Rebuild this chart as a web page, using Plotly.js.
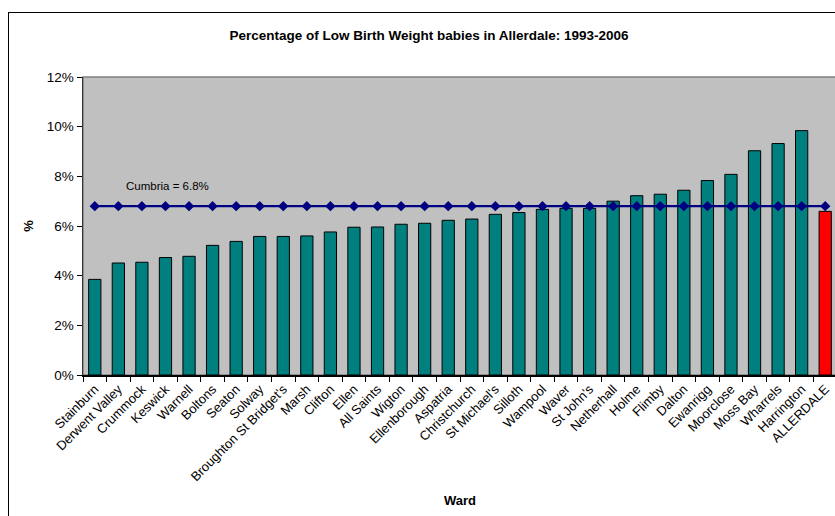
<!DOCTYPE html>
<html>
<head>
<meta charset="utf-8">
<script src="https://cdn.plot.ly/plotly-3.0.1.min.js"></script>
<style>
  html, body { margin: 0; padding: 0; background: #fff; overflow: hidden; }
  #wrap { position: relative; width: 835px; height: 516px; overflow: hidden; }
  #chart { position: absolute; left: 0; top: 0; width: 837px; height: 516px; }
  #frame { position: absolute; left: 8px; top: 12px; width: 900px; height: 600px;
           border: 1px solid #000; pointer-events: none; }
</style>
</head>
<body>
<div id="wrap">
  <div id="chart"></div>
  <div id="frame"></div>
</div>
<script>
// Low birth weight rate (%) by ward, Allerdale 1993-2006
const wards = ["Stainburn", "Derwent Valley", "Crummock", "Keswick", "Warnell", "Boltons",
  "Seaton", "Solway", "Broughton St Bridget's", "Marsh", "Clifton", "Ellen", "All Saints",
  "Wigton", "Ellenborough", "Aspatria", "Christchurch", "St Michael's", "Silloth", "Wampool",
  "Waver", "St John's", "Netherhall", "Holme", "Flimby", "Dalton", "Ewanrigg", "Moorclose",
  "Moss Bay", "Wharrels", "Harrington", "ALLERDALE"];

const lbwRate = [3.85, 4.51, 4.54, 4.73, 4.78, 5.22, 5.38, 5.58, 5.58, 5.60, 5.76, 5.95, 5.96,
  6.07, 6.11, 6.23, 6.28, 6.47, 6.54, 6.67, 6.71, 6.71, 7.00, 7.22, 7.28, 7.44, 7.83, 8.08,
  9.03, 9.32, 9.84, 6.59];

// County-wide comparison rate
const cumbriaRate = 6.8;
const cumbriaLabel = "Cumbria = 6.8%";

const yTicks = [0, 2, 4, 6, 8, 10, 12];

const FONT = "Liberation Sans, Arial, sans-serif";

const barColors = wards.map(w => w === "ALLERDALE" ? "#ff0000" : "#007f7f");

const bars = {
  type: "bar",
  x: wards,
  y: lbwRate,
  marker: { color: barColors, line: { color: "#000", width: 1 } },
  hoverinfo: "x+y",
  showlegend: false
};

const cumbria = {
  type: "scatter",
  mode: "lines+markers",
  x: wards,
  y: wards.map(() => cumbriaRate),
  line: { color: "#000080", width: 2.4 },
  marker: { symbol: "diamond", size: 8, color: "#000080" },
  showlegend: false
};

const layout = {
  width: 837,
  height: 516,
  margin: { l: 83, r: 0, t: 77, b: 141 },
  paper_bgcolor: "#ffffff",
  plot_bgcolor: "#c0c0c0",
  bargap: 0.48,
  font: { family: FONT, color: "#000", size: 12 },
  title: {
    text: "<b>Percentage of Low Birth Weight babies in Allerdale: 1993-2006</b>",
    font: { family: FONT, size: 13.5, color: "#000" },
    x: 429 / 837, xref: "container", xanchor: "center",
    y: 1 - 35 / 516, yref: "container", yanchor: "middle"
  },
  xaxis: {
    type: "category",
    range: [-0.5, wards.length - 0.5],
    autorange: false,
    tickson: "boundaries",
    ticks: "outside",
    ticklen: 5,
    tickcolor: "#000",
    tickwidth: 1,
    tickangle: -45,
    tickfont: { family: FONT, size: 13, color: "#000" },
    showline: true,
    linecolor: "#000",
    linewidth: 1.5,
    showgrid: false,
    automargin: false,
    title: { text: "<b>Ward</b>", font: { family: FONT, size: 13, color: "#000" }, standoff: 13 }
  },
  yaxis: {
    range: [0, 12],
    autorange: false,
    tickvals: yTicks,
    ticktext: yTicks.map(v => v + "%"),
    ticks: "outside",
    ticklen: 5,
    tickcolor: "#000",
    tickfont: { family: FONT, size: 13.5, color: "#000" },
    showline: true,
    linecolor: "#333",
    linewidth: 1.5,
    showgrid: false,
    zeroline: false,
    automargin: false,
    title: { text: "<b>%</b>", font: { family: FONT, size: 13, color: "#000" }, standoff: 10 }
  },
  shapes: [{
    type: "rect", xref: "paper", yref: "paper", x0: 0, x1: 1, y0: 0, y1: 1,
    line: { color: "#808080", width: 1.5 }, layer: "below"
  }],
  annotations: [{
    text: cumbriaLabel,
    xref: "paper", yref: "y",
    x: (124 - 83) / 754, y: 7.6,
    xanchor: "left", yanchor: "middle",
    showarrow: false,
    font: { family: FONT, size: 11.5, color: "#000" }
  }]
};

Plotly.newPlot("chart", [bars, cumbria], layout, { displayModeBar: false, staticPlot: true });
</script>
</body>
</html>
